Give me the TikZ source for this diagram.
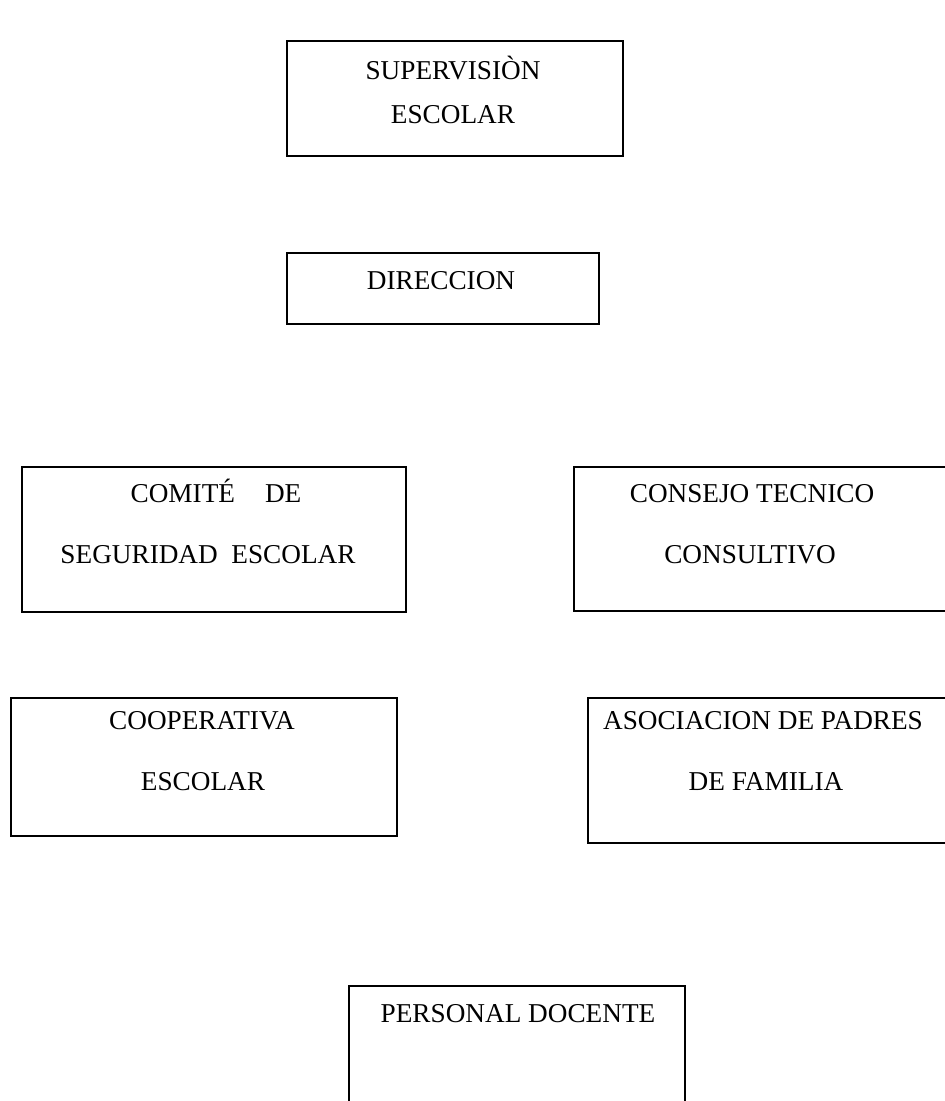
\documentclass[tikz,border=0pt]{standalone}
\usepackage{fontspec}
\setmainfont{Liberation Serif}
\usetikzlibrary{positioning}
\tikzset{
  caja/.style 2 args={draw, line width=1pt, anchor=north west, inner sep=0pt,
    minimum width=#1*0.02cm, minimum height=#2*0.02cm},
  texto/.style={anchor=base, inner sep=0pt, font=\fontsize{15.5}{18}\selectfont}
}

\begin{document}
\begin{tikzpicture}[x=0.02cm, y=-0.02cm]
  \useasboundingbox (0,0) rectangle (945,1101);
  \clip (0,0) rectangle (945,1101);

  % cajas
  \node [caja={336}{115}] (supervision) at (286,40) {};
  \node [caja={312}{71}]  (direccion)   at (286,252) {};
  \node [caja={384}{145}] (comite)      at (21,466) {};
  \node [caja={400}{144}] (consejo)     at (573,466) {};
  \node [caja={386}{138}] (cooperativa) at (10,697) {};
  \node [caja={400}{145}] (asociacion)  at (587,697) {};
  \node [caja={336}{150}] (personal)    at (348,985) {};

  % textos
  \node [texto] (supervisionA) at (453,80) {SUPERVISIÒN};
  \node [texto] (supervisionB) at (453,124) {ESCOLAR};
  \node [texto] (direccionA) at (441,290) {DIRECCION};
  \node [texto] (comiteA) at (216,502) {COMITÉ\hspace{0.6cm}DE};
  \node [texto] (comiteB) at (208,563) {SEGURIDAD\ \ ESCOLAR};
  \node [texto] (consejoA) at (752,502) {CONSEJO TECNICO};
  \node [texto] (consejoB) at (750,563) {CONSULTIVO};
  \node [texto] (cooperativaA) at (202,729) {COOPERATIVA};
  \node [texto] (cooperativaB) at (203,790) {ESCOLAR};
  \node [texto] (asociacionA) at (763,729) {ASOCIACION DE PADRES};
  \node [texto] (asociacionB) at (766,790) {DE FAMILIA};
  \node [texto] (personalA) at (518,1022) {PERSONAL DOCENTE};

\end{tikzpicture}
\end{document}
